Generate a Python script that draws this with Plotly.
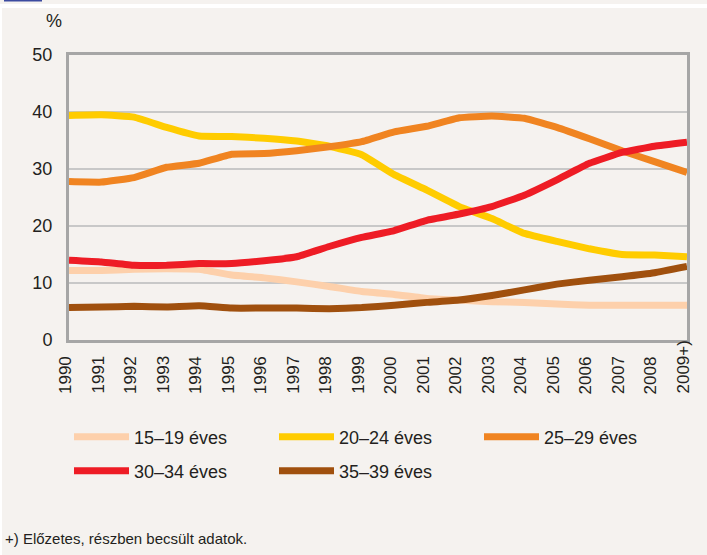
import plotly.graph_objects as go

years = ["1990", "1991", "1992", "1993", "1994", "1995", "1996", "1997", "1998", "1999",
         "2000", "2001", "2002", "2003", "2004", "2005", "2006", "2007", "2008", "2009+)"]

s15_19 = [12.2, 12.2, 12.4, 12.5, 12.4, 11.4, 10.9, 10.2, 9.4, 8.5,
          8.0, 7.3, 7.0, 6.7, 6.6, 6.3, 6.1, 6.1, 6.1, 6.1]
s20_24 = [39.4, 39.5, 39.1, 37.3, 35.8, 35.7, 35.4, 34.9, 34.0, 32.5,
          29.0, 26.3, 23.4, 21.3, 18.7, 17.3, 16.0, 15.0, 14.9, 14.6]
s25_29 = [27.8, 27.7, 28.5, 30.3, 31.0, 32.6, 32.7, 33.2, 33.9, 34.8,
          36.5, 37.5, 39.0, 39.3, 38.9, 37.3, 35.3, 33.2, 31.3, 29.4]
s30_34 = [14.0, 13.7, 13.1, 13.1, 13.4, 13.4, 13.9, 14.6, 16.4, 18.0,
          19.2, 21.0, 22.1, 23.4, 25.4, 28.1, 31.0, 32.9, 34.0, 34.7]
s35_39 = [5.7, 5.8, 5.9, 5.8, 6.0, 5.6, 5.6, 5.6, 5.5, 5.7,
          6.1, 6.6, 7.0, 7.8, 8.8, 9.8, 10.5, 11.1, 11.8, 12.9]

names = ["15–19 éves", "20–24 éves", "25–29 éves", "30–34 éves", "35–39 éves"]
series = [s15_19, s20_24, s25_29, s30_34, s35_39]
colors = ["#fdd0ab", "#ffcc00", "#f08421", "#ee1c25", "#a0500e"]
legends = ["legend", "legend", "legend", "legend2", "legend2"]

FONT = "Liberation Sans, Arial, sans-serif"
BG = "#f5f2ef"
TXT = "#231f20"

W, H = 707, 555
L, R, T, B = 69, 687, 55, 340


def px(x):
    return (x - L) / (R - L)


def py(y):
    return (B - y) / (B - T)


fig = go.Figure()
for name, vals, col, lg in zip(names, series, colors, legends):
    fig.add_trace(go.Scatter(
        x=years, y=vals, name=name, mode="lines",
        line=dict(color=col, width=7, shape="spline", smoothing=0.3),
        legend=lg,
    ))

legend_common = dict(
    orientation="h", xanchor="left", yanchor="middle",
    bgcolor="rgba(0,0,0,0)", entrywidth=135, entrywidthmode="pixels",
    font=dict(size=18, color=TXT), itemwidth=55,
)

fig.update_layout(
    width=W, height=H,
    margin=dict(l=L, r=W - R, t=T, b=H - B, pad=0),
    paper_bgcolor=BG, plot_bgcolor=BG,
    font=dict(family=FONT, size=18, color=TXT),
    xaxis=dict(
        type="category", range=[0, 19],
        showgrid=False, ticks="", showticklabels=False,
        showline=True, mirror=True,
        linecolor="#a6a6a6", linewidth=3, zeroline=False,
    ),
    yaxis=dict(
        range=[0, 50], dtick=10, showgrid=True, gridcolor="#c8c8c8", gridwidth=2,
        showline=True, mirror=True, linecolor="#a6a6a6", linewidth=3,
        ticks="", ticklabelstandoff=10,
        tickfont=dict(size=18), zeroline=False,
    ),
    legend=dict(x=px(69), y=py(437), **legend_common),
    legend2=dict(x=px(69), y=py(471), **legend_common),
    showlegend=True,
)

# category tick labels (positioned by category index on the x axis),
# rotated and aligned at their start (bottom), as in the source
for i, yr in enumerate(years):
    fig.add_annotation(text=yr, x=i, xref="x", y=py(396), yref="paper",
                       textangle=-90, showarrow=False, xanchor="center", yanchor="bottom",
                       xshift=-4, font=dict(size=17, color=TXT))

fig.add_annotation(text="%", x=px(54), y=py(21), xref="paper", yref="paper",
                   showarrow=False, font=dict(size=18), xanchor="center", yanchor="middle")
fig.add_annotation(text="+) Előzetes, részben becsült adatok.", x=px(3), y=py(538),
                   xref="paper", yref="paper", showarrow=False,
                   font=dict(size=15), xanchor="left", yanchor="middle")

# decorative page strips
fig.add_shape(type="rect", xref="paper", yref="paper", x0=px(0), x1=px(707), y0=py(8), y1=py(4),
              fillcolor="white", line_width=0, layer="below")
fig.add_shape(type="rect", xref="paper", yref="paper", x0=px(0), x1=px(2), y0=py(555), y1=py(8),
              fillcolor="white", line_width=0, layer="below")
fig.add_shape(type="rect", xref="paper", yref="paper", x0=px(4), x1=px(42), y0=py(1.5), y1=py(0),
              fillcolor="#3c4ba0", line_width=0, layer="below")

fig.write_html("out.html", config={"displayModeBar": False},
               post_script="document.body.style.margin='0';")
